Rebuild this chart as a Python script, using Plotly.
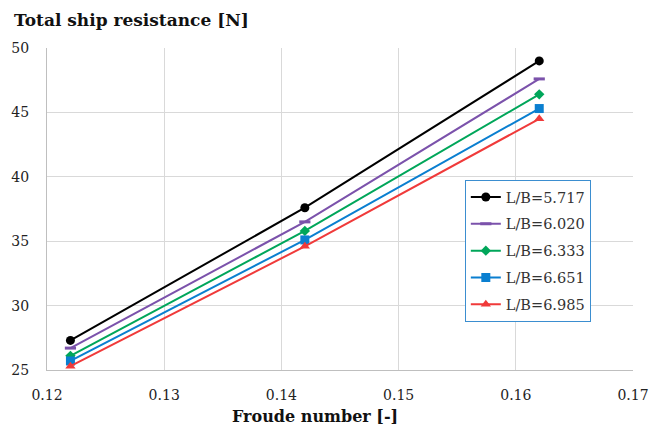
import plotly.graph_objects as go

froude = [0.122, 0.142, 0.162]
labels = ["L/B=5.717", "L/B=6.020", "L/B=6.333", "L/B=6.651", "L/B=6.985"]
r_5717 = [27.3, 37.6, 49.0]
r_6020 = [26.7, 36.5, 47.6]
r_6333 = [26.1, 35.8, 46.4]
r_6651 = [25.7, 35.1, 45.3]
r_6985 = [25.3, 34.6, 44.5]
series = [r_5717, r_6020, r_6333, r_6651, r_6985]

colors = ["#000000", "#7B52AB", "#00A65A", "#0A7FD0", "#F03A3A"]
symbols = ["circle", "line-ew", "diamond", "square", "triangle-up"]
sizes = [9, 8, 8, 9, 9]

fig = go.Figure()
for lab, ys, c, s, sz in zip(labels, series, colors, symbols, sizes):
    marker = dict(color=c, symbol=s, size=sz)
    if s == "line-ew":
        marker["line"] = dict(color=c, width=3)
    fig.add_trace(go.Scatter(x=froude, y=ys, mode="lines+markers", name=lab,
                             legendgroup=lab,
                             line=dict(color=c, width=2), marker=marker))

font_family = "DejaVu Serif"
fig.update_layout(
    width=661, height=428,
    margin=dict(l=47, r=28, t=48, b=58),
    paper_bgcolor="white", plot_bgcolor="white",
    font=dict(family=font_family, size=14, color="#222222"),
    showlegend=True,
    legend=dict(x=0.713, y=0.59, xanchor="left", yanchor="top",
                bordercolor="#3B8ED0", borderwidth=1, bgcolor="white",
                font=dict(family=font_family, size=14.5, color="#333333"),
                itemwidth=30, tracegroupgap=5),
    xaxis=dict(range=[0.12, 0.17], dtick=0.01, tick0=0.12, tickformat=".2f",
               showgrid=True, gridcolor="#D9D9D9", gridwidth=1,
               showline=True, linecolor="#BFBFBF", linewidth=1,
               ticks="", ticklabelstandoff=12, zeroline=False),
    yaxis=dict(range=[25, 50], dtick=5,
               showgrid=True, gridcolor="#D9D9D9", gridwidth=1,
               showline=True, linecolor="#BFBFBF", linewidth=1,
               ticks="", ticklabelstandoff=14, zeroline=False),
    annotations=[
        dict(text="<b>Total ship resistance [N]</b>", xref="paper", yref="paper",
             x=(12-47)/586, y=1 + 28/322, xanchor="left", yanchor="middle",
             showarrow=False, font=dict(family=font_family, size=17, color="#111111")),
        dict(text="<b>Froude number [-]</b>", xref="paper", yref="paper",
             x=(315-47)/586, y=-47/322, xanchor="center", yanchor="middle",
             showarrow=False, font=dict(family=font_family, size=16, color="#111111")),
    ],
)

fig.write_html("out.html")
